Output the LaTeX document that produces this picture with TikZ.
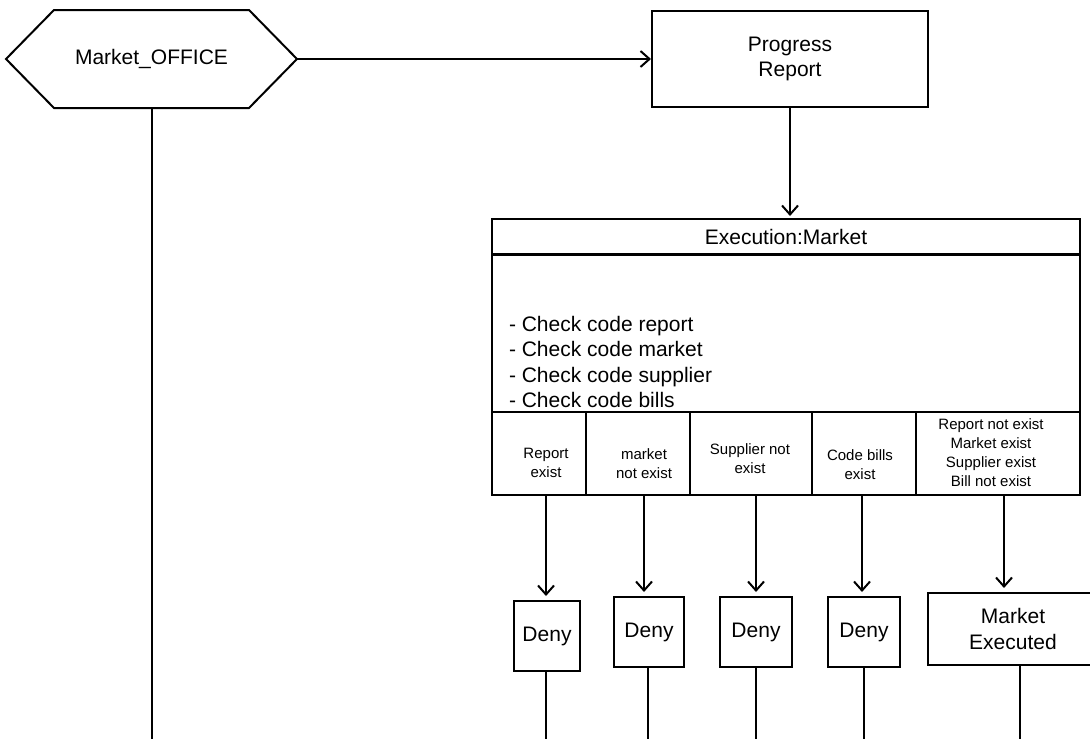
\documentclass[tikz,border=0pt]{standalone}
\usepackage{fontspec}
\setmainfont{Liberation Sans}
\usetikzlibrary{arrows.meta,calc}

\begin{document}
\begin{tikzpicture}[x=1pt,y=-1pt,line width=2pt,
  box/.style={draw,rectangle,inner sep=0pt},
  big/.style={font=\fontsize{21}{25.3}\selectfont},
  small/.style={font=\fontsize{15}{19}\selectfont,align=center,inner sep=0pt},
  arr/.style={-{Straight Barb[length=9pt,width=16pt,line width=2pt]}},
  darr/.style={arr,shorten >=4pt}]

\useasboundingbox (0,0) rectangle (1090,739);
\clip (0,0) rectangle (1090,739);
\coordinate (bottom) at (0,739);

% office hexagon
\node[big,minimum width=289pt,minimum height=96pt,inner sep=0pt] (office) at (151.5,59) {Market\_OFFICE};
\draw (office.west) -- ($(office.north west)+(48,0)$) -- ($(office.north east)+(-48,0)$)
  -- (office.east) -- ($(office.south east)+(-48,0)$) -- ($(office.south west)+(48,0)$) -- cycle;

% progress report
\node[box,big,align=center,minimum width=276pt,minimum height=96pt] (progress) at (790,59) {Progress\\Report};

% execution block
\node[box,big,minimum width=588pt,minimum height=35pt] (head) at (786,236.5) {Execution:Market};
\node[box,minimum width=588pt,minimum height=157pt] (body) at (786,333) {};
\node[big,align=left,anchor=west,inner sep=0pt] (checks) at (508,362)
  {- Check code report\\- Check code market\\- Check code supplier\\- Check code bills};

\node[box,minimum width=94pt,minimum height=83pt] (c1) at (539,453.5) {};
\node[box,minimum width=104pt,minimum height=83pt] (c2) at (638,453.5) {};
\node[box,minimum width=122pt,minimum height=83pt] (c3) at (751,453.5) {};
\node[box,minimum width=104pt,minimum height=83pt] (c4) at (864,453.5) {};
\node[box,minimum width=164pt,minimum height=83pt] (c5) at (998,453.5) {};

\node[small] (l1) at (546,463) {Report\\exist};
\node[small] (l2) at (644,463.5) {market\\not exist};
\node[small] (l3) at (750,459) {Supplier not\\exist};
\node[small] (l4) at (860,465) {Code bills\\exist};
\node[small] (l5) at (991,453) {Report not exist\\Market exist\\Supplier exist\\Bill not exist};

% outcome boxes
\node[box,big,minimum width=66pt,minimum height=70pt] (d1) at (547,636) {Deny};
\node[box,big,minimum width=70pt,minimum height=70pt] (d2) at (649,632) {Deny};
\node[box,big,minimum width=72pt,minimum height=70pt] (d3) at (756,632) {Deny};
\node[box,big,minimum width=72pt,minimum height=70pt] (d4) at (864,632) {Deny};
\node[box,big,align=center,minimum width=170pt,minimum height=72pt] (d5) at (1013,629) {Market\\Executed};

% connectors
\draw[arr] (office.east) -- (progress.west);
\draw[arr,shorten >=2pt] (progress.south) -- (progress.south |- head.north);
\draw (office.south) -- (office.south |- bottom);

\coordinate (a1) at ([xshift=-1pt]d1.north);
\coordinate (a2) at ([xshift=-5pt]d2.north);
\coordinate (a3) at (d3.north);
\coordinate (a4) at ([xshift=-2pt]d4.north);
\coordinate (a5) at ([xshift=-9pt]d5.north);
\draw[darr] (a1 |- c1.south) -- (a1);
\draw[darr] (a2 |- c2.south) -- (a2);
\draw[darr] (a3 |- c3.south) -- (a3);
\draw[darr] (a4 |- c4.south) -- (a4);
\draw[darr] (a5 |- c5.south) -- (a5);

\coordinate (o1) at ([xshift=-1pt]d1.south);
\coordinate (o2) at ([xshift=-1pt]d2.south);
\coordinate (o3) at (d3.south);
\coordinate (o4) at (d4.south);
\coordinate (o5) at ([xshift=7pt]d5.south);
\foreach \o in {o1,o2,o3,o4,o5}
  \draw (\o) -- (\o |- bottom);
\end{tikzpicture}
\end{document}
